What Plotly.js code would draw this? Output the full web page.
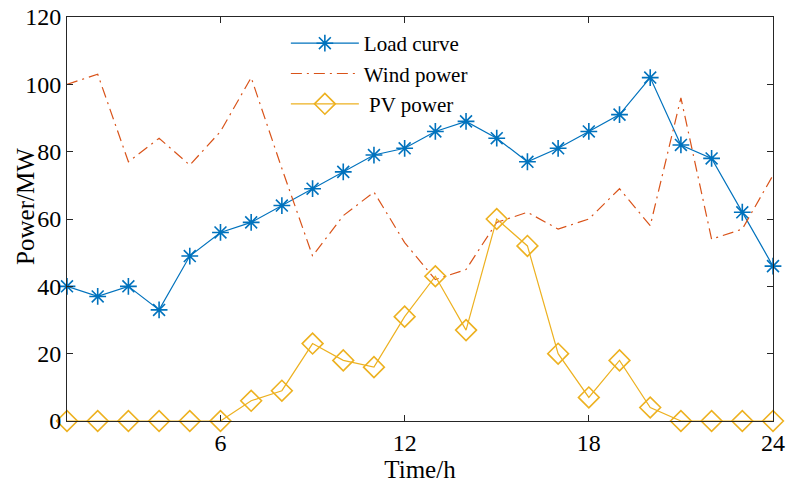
<!DOCTYPE html>
<html>
<head>
<meta charset="utf-8">
<script src="https://cdn.plot.ly/plotly-3.0.1.min.js"></script>
<style>html,body{margin:0;padding:0;background:#fff;}#chart{width:788px;height:486px;}</style>
</head>
<body>
<div id="chart"></div>
<script>
const hours = [1,2,3,4,5,6,7,8,9,10,11,12,13,14,15,16,17,18,19,20,21,22,23,24];
const loadCurve = [40,37,40,33,49,56,59,64,69,74,79,81,86,89,84,77,81,86,91,102,82,78,62,46];
const windPower = [100,103,77,84,76,86,102,75,49,61,68,53,42,45,59,62,57,60,69,58,96,54,57,73];
const pvPower = [0,0,0,0,0,0,6,9,23,18,16,31,43,27,60,52,20,7,18,4,0,0,0,0];
const seriesNames = ['Load curve','Wind power',' PV power'];
const xTicks = [6,12,18,24];

const fontFam = '"Liberation Serif", "Times New Roman", serif';

const traces = [
  {x: hours, y: loadCurve, name: seriesNames[0], type: 'scatter', mode: 'lines+markers', cliponaxis: false,
   line: {color: '#0072BD', width: 1.2},
   marker: {symbol: 'asterisk-open', size: 14, color: '#0072BD', line: {color: '#0072BD', width: 1.6}}},
  {x: hours, y: windPower, name: seriesNames[1], type: 'scatter', mode: 'lines', cliponaxis: false,
   line: {color: '#D95319', width: 1.2, dash: '11px,5px,2px,5px'}},
  {x: hours, y: pvPower, name: seriesNames[2], type: 'scatter', mode: 'lines+markers', cliponaxis: false,
   line: {color: '#EDB120', width: 1.2},
   marker: {symbol: 'diamond-open', size: 16, color: '#EDB120', line: {color: '#EDB120', width: 1.6}}}
];

const axisCommon = {
  showline: true, linecolor: '#262626', linewidth: 1, mirror: 'ticks',
  ticks: 'inside', ticklen: 6, tickcolor: '#262626', tickwidth: 1,
  showgrid: false, zeroline: false,
  tickfont: {family: fontFam, size: 24, color: '#000'}
};

const layout = {
  width: 788, height: 486,
  margin: {l: 67, r: 15, t: 17, b: 65},
  paper_bgcolor: '#fff', plot_bgcolor: '#fff',
  font: {family: fontFam, color: '#000'},
  showlegend: true,
  legend: {x: 0.31, y: 0.985, xanchor: 'left', yanchor: 'top', bgcolor: 'rgba(255,255,255,0)',
           itemwidth: 68,
           borderwidth: 0, font: {family: fontFam, size: 21, color: '#000'}, tracegroupgap: 0},
  xaxis: Object.assign({}, axisCommon, {range: [1, 24], tickvals: xTicks, ticktext: xTicks.map(String),
    title: {text: 'Time/h', font: {family: fontFam, size: 25, color: '#000'}, standoff: 0}}),
  yaxis: Object.assign({}, axisCommon, {range: [0, 120], dtick: 20, tick0: 0}),
  annotations: [{
    text: 'Power/MW', textangle: -90, showarrow: false,
    xref: 'paper', yref: 'paper', x: 0, y: 0.53, xanchor: 'center', yanchor: 'middle', xshift: -41,
    font: {family: fontFam, size: 25, color: '#000'}
  }]
};

Plotly.newPlot('chart', traces, layout, {displayModeBar: false, staticPlot: true});
</script>
</body>
</html>
